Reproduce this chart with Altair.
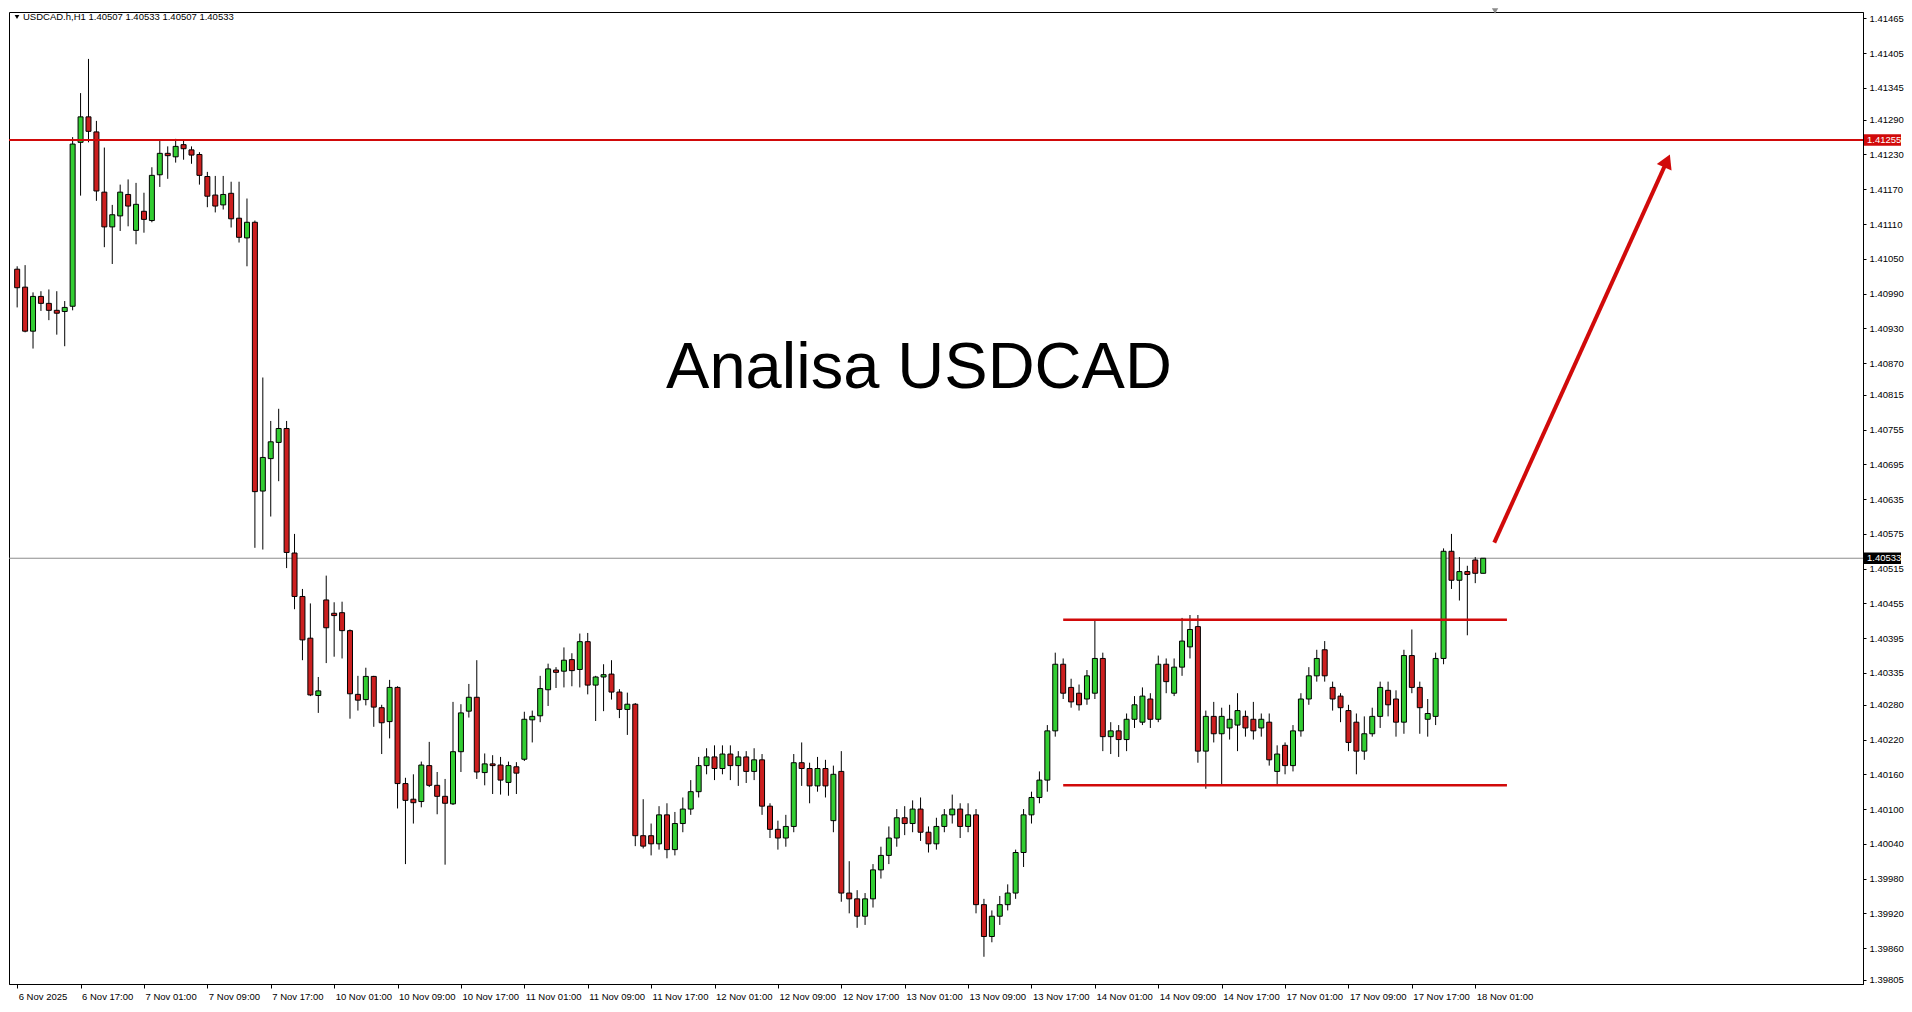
import json
import altair as alt
import pandas as pd

# ---------------- data ----------------
OPEN = [1.41032, 1.41001, 1.40925, 1.40985, 1.40973, 1.40961, 1.40959, 1.40968, 1.41251, 1.41295,
        1.41269, 1.41165, 1.41105, 1.41124, 1.41161, 1.41099, 1.41132, 1.41116, 1.41195, 1.41232,
        1.41226, 1.41247, 1.41238, 1.41230, 1.41192, 1.41160, 1.41143, 1.41163, 1.41120, 1.41086,
        1.41113, 1.40649, 1.40705, 1.40733, 1.40757, 1.40542, 1.40467, 1.40395, 1.40296, 1.40461,
        1.40438, 1.40439, 1.40408, 1.40298, 1.40289, 1.40329, 1.40275, 1.40251, 1.40310, 1.40144,
        1.40117, 1.40113, 1.40175, 1.40141, 1.40122, 1.40109, 1.40199, 1.40269, 1.40293, 1.40163,
        1.40178, 1.40176, 1.40146, 1.40173, 1.40186, 1.40254, 1.40261, 1.40306, 1.40340, 1.40338,
        1.40358, 1.40341, 1.40389, 1.40314, 1.40328, 1.40333, 1.40302, 1.40272, 1.40281, 1.40054,
        1.40054, 1.40040, 1.40090, 1.40030, 1.40075, 1.40100, 1.40130, 1.40175, 1.40190, 1.40170,
        1.40195, 1.40175, 1.40190, 1.40165, 1.40185, 1.40105, 1.40065, 1.40050, 1.40070, 1.40180,
        1.40170, 1.40140, 1.40170, 1.40080, 1.40165, 1.39955, 1.39945, 1.39915, 1.39945, 1.39995,
        1.40020, 1.40050, 1.40085, 1.40075, 1.40100, 1.40060, 1.40040, 1.40070, 1.40090, 1.40100,
        1.40070, 1.40090, 1.39935, 1.39880, 1.39915, 1.39935, 1.39955, 1.40025, 1.40090, 1.40120,
        1.40150, 1.40235, 1.40350, 1.40310, 1.40300, 1.40290, 1.40300, 1.40360, 1.40225, 1.40235,
        1.40220, 1.40255, 1.40250, 1.40290, 1.40255, 1.40350, 1.40300, 1.40345, 1.40380, 1.40415,
        1.40200, 1.40260, 1.40230, 1.40240, 1.40245, 1.40260, 1.40255, 1.40240, 1.40250, 1.40165,
        1.40210, 1.40175, 1.40235, 1.40290, 1.40330, 1.40375, 1.40310, 1.40295, 1.40270, 1.40250,
        1.40200, 1.40230, 1.40260, 1.40305, 1.40290, 1.40250, 1.40365, 1.40310, 1.40255, 1.40260,
        1.40360, 1.40545, 1.40495, 1.40510, 1.40530, 1.40507]
HIGH = [1.41037, 1.41039, 1.40992, 1.40994, 1.40997, 1.40994, 1.40977, 1.41260, 1.41336, 1.41395,
        1.41288, 1.41242, 1.41143, 1.41178, 1.41187, 1.41181, 1.41164, 1.41208, 1.41254, 1.41244,
        1.41257, 1.41254, 1.41244, 1.41234, 1.41200, 1.41193, 1.41193, 1.41183, 1.41183, 1.41154,
        1.41116, 1.40845, 1.40770, 1.40791, 1.40770, 1.40575, 1.40480, 1.40455, 1.40328, 1.40503,
        1.40457, 1.40458, 1.40410, 1.40330, 1.40344, 1.40330, 1.40280, 1.40323, 1.40312, 1.40154,
        1.40160, 1.40182, 1.40216, 1.40164, 1.40152, 1.40285, 1.40281, 1.40316, 1.40357, 1.40196,
        1.40193, 1.40190, 1.40182, 1.40181, 1.40268, 1.40270, 1.40330, 1.40351, 1.40345, 1.40379,
        1.40369, 1.40403, 1.40404, 1.40330, 1.40350, 1.40357, 1.40307, 1.40301, 1.40283, 1.40117,
        1.40075, 1.40105, 1.40110, 1.40095, 1.40120, 1.40150, 1.40190, 1.40205, 1.40210, 1.40210,
        1.40210, 1.40200, 1.40200, 1.40205, 1.40195, 1.40110, 1.40080, 1.40090, 1.40195, 1.40215,
        1.40180, 1.40190, 1.40185, 1.40175, 1.40200, 1.40010, 1.39960, 1.39955, 1.40005, 1.40035,
        1.40070, 1.40100, 1.40105, 1.40115, 1.40120, 1.40070, 1.40085, 1.40100, 1.40125, 1.40110,
        1.40110, 1.40100, 1.39945, 1.39925, 1.39950, 1.39970, 1.40030, 1.40100, 1.40130, 1.40165,
        1.40245, 1.40370, 1.40360, 1.40325, 1.40315, 1.40340, 1.40425, 1.40370, 1.40250, 1.40245,
        1.40265, 1.40295, 1.40310, 1.40300, 1.40365, 1.40360, 1.40360, 1.40430, 1.40435, 1.40435,
        1.40270, 1.40285, 1.40275, 1.40280, 1.40300, 1.40270, 1.40285, 1.40265, 1.40265, 1.40210,
        1.40215, 1.40245, 1.40300, 1.40345, 1.40375, 1.40390, 1.40320, 1.40300, 1.40280, 1.40265,
        1.40260, 1.40275, 1.40320, 1.40320, 1.40305, 1.40375, 1.40410, 1.40320, 1.40290, 1.40370,
        1.40550, 1.40575, 1.40535, 1.40520, 1.40535, 1.40533]
LOW = [1.40966, 1.40923, 1.40895, 1.40960, 1.40944, 1.40919, 1.40899, 1.40961, 1.41159, 1.41251,
       1.41150, 1.41070, 1.41041, 1.41098, 1.41106, 1.41075, 1.41095, 1.41113, 1.41174, 1.41188,
       1.41216, 1.41221, 1.41214, 1.41178, 1.41139, 1.41130, 1.41135, 1.41104, 1.41078, 1.41037,
       1.40551, 1.40548, 1.40605, 1.40666, 1.40516, 1.40445, 1.40357, 1.40295, 1.40266, 1.40352,
       1.40363, 1.40360, 1.40256, 1.40270, 1.40279, 1.40242, 1.40195, 1.40222, 1.40101, 1.40005,
       1.40075, 1.40103, 1.40138, 1.40091, 1.40004, 1.40107, 1.40164, 1.40258, 1.40152, 1.40141,
       1.40126, 1.40125, 1.40123, 1.40126, 1.40183, 1.40215, 1.40250, 1.40278, 1.40309, 1.40310,
       1.40312, 1.40310, 1.40298, 1.40252, 1.40269, 1.40289, 1.40257, 1.40228, 1.40036, 1.40032,
       1.40020, 1.40030, 1.40015, 1.40020, 1.40060, 1.40090, 1.40120, 1.40160, 1.40150, 1.40160,
       1.40150, 1.40140, 1.40145, 1.40150, 1.40090, 1.40050, 1.40030, 1.40035, 1.40060, 1.40140,
       1.40110, 1.40130, 1.40120, 1.40060, 1.39940, 1.39920, 1.39895, 1.39900, 1.39930, 1.39980,
       1.40005, 1.40035, 1.40055, 1.40060, 1.40045, 1.40025, 1.40030, 1.40060, 1.40075, 1.40050,
       1.40060, 1.39920, 1.39845, 1.39870, 1.39900, 1.39925, 1.39945, 1.40000, 1.40075, 1.40110,
       1.40130, 1.40225, 1.40290, 1.40275, 1.40270, 1.40280, 1.40290, 1.40200, 1.40195, 1.40190,
       1.40200, 1.40240, 1.40245, 1.40240, 1.40250, 1.40300, 1.40295, 1.40330, 1.40360, 1.40180,
       1.40135, 1.40215, 1.40140, 1.40220, 1.40200, 1.40225, 1.40220, 1.40225, 1.40175, 1.40140,
       1.40160, 1.40165, 1.40225, 1.40280, 1.40320, 1.40320, 1.40270, 1.40250, 1.40200, 1.40160,
       1.40185, 1.40225, 1.40240, 1.40260, 1.40225, 1.40230, 1.40300, 1.40230, 1.40225, 1.40245,
       1.40350, 1.40480, 1.40460, 1.40400, 1.40490, 1.40507]
CLOSE = [1.41000, 1.40925, 1.40985, 1.40973, 1.40961, 1.40956, 1.40966, 1.41248, 1.41295, 1.41270,
         1.41167, 1.41105, 1.41126, 1.41165, 1.41141, 1.41144, 1.41118, 1.41194, 1.41232, 1.41228,
         1.41244, 1.41240, 1.41229, 1.41194, 1.41158, 1.41141, 1.41161, 1.41119, 1.41087, 1.41113,
         1.40648, 1.40707, 1.40734, 1.40757, 1.40543, 1.40467, 1.40392, 1.40297, 1.40304, 1.40413,
         1.40434, 1.40408, 1.40299, 1.40288, 1.40329, 1.40276, 1.40249, 1.40310, 1.40144, 1.40115,
         1.40111, 1.40176, 1.40141, 1.40122, 1.40110, 1.40199, 1.40266, 1.40293, 1.40164, 1.40178,
         1.40175, 1.40150, 1.40175, 1.40162, 1.40255, 1.40260, 1.40308, 1.40342, 1.40336, 1.40357,
         1.40339, 1.40389, 1.40314, 1.40328, 1.40332, 1.40302, 1.40272, 1.40281, 1.40054, 1.40036,
         1.40040, 1.40090, 1.40030, 1.40075, 1.40100, 1.40130, 1.40175, 1.40190, 1.40170, 1.40195,
         1.40175, 1.40190, 1.40165, 1.40185, 1.40105, 1.40065, 1.40050, 1.40070, 1.40180, 1.40170,
         1.40140, 1.40170, 1.40140, 1.40160, 1.39955, 1.39945, 1.39915, 1.39945, 1.39995, 1.40020,
         1.40050, 1.40085, 1.40075, 1.40100, 1.40060, 1.40040, 1.40070, 1.40090, 1.40100, 1.40070,
         1.40090, 1.39935, 1.39880, 1.39915, 1.39935, 1.39955, 1.40025, 1.40090, 1.40120, 1.40150,
         1.40235, 1.40350, 1.40300, 1.40285, 1.40280, 1.40330, 1.40360, 1.40225, 1.40235, 1.40220,
         1.40255, 1.40280, 1.40295, 1.40255, 1.40350, 1.40320, 1.40345, 1.40390, 1.40410, 1.40200,
         1.40260, 1.40230, 1.40260, 1.40255, 1.40270, 1.40240, 1.40235, 1.40255, 1.40185, 1.40195,
         1.40175, 1.40235, 1.40290, 1.40330, 1.40360, 1.40330, 1.40290, 1.40275, 1.40215, 1.40200,
         1.40230, 1.40260, 1.40310, 1.40280, 1.40250, 1.40365, 1.40310, 1.40275, 1.40265, 1.40360,
         1.40545, 1.40495, 1.40510, 1.40505, 1.40507, 1.40533]

XLABELS = ["6 Nov 2025", "6 Nov 17:00", "7 Nov 01:00", "7 Nov 09:00", "7 Nov 17:00",
           "10 Nov 01:00", "10 Nov 09:00", "10 Nov 17:00", "11 Nov 01:00", "11 Nov 09:00",
           "11 Nov 17:00", "12 Nov 01:00", "12 Nov 09:00", "12 Nov 17:00", "13 Nov 01:00",
           "13 Nov 09:00", "13 Nov 17:00", "14 Nov 01:00", "14 Nov 09:00", "14 Nov 17:00",
           "17 Nov 01:00", "17 Nov 09:00", "17 Nov 17:00", "18 Nov 01:00"]
XLABEL_BARS = [0, 8, 16, 24, 32, 40, 48, 56, 64, 72, 80, 88, 96, 104, 112, 120, 128, 136,
               144, 152, 160, 168, 176, 184]
YTICKS = [1.41465, 1.41405, 1.41345, 1.41290, 1.41230, 1.41170, 1.41110, 1.41050, 1.40990,
          1.40930, 1.40870, 1.40815, 1.40755, 1.40695, 1.40635, 1.40575, 1.40515, 1.40455,
          1.40395, 1.40335, 1.40280, 1.40220, 1.40160, 1.40100, 1.40040, 1.39980, 1.39920,
          1.39860, 1.39805]

RESISTANCE = [1.41255]
CURRENT = [1.40533]
CHANNEL_LEVELS = [1.40427, 1.40141]
CHANNEL_START = [132, 132]
CHANNEL_END = [188, 188]
ARROW_X = [186.4, 208.2]
ARROW_Y = [1.40560, 1.41219]
TITLE = "Analisa USDCAD"
HEADER = "USDCAD.h,H1  1.40507 1.40533 1.40507 1.40533"

# ---------------- styling ----------------
GREEN = "#32cd32"
RED = "#cc1f1f"
LINE_RED = "#d10a0a"
FONT = "Liberation Sans"
W, H = 1854, 972

df = pd.DataFrame({"i": list(range(len(OPEN))), "open": OPEN, "high": HIGH,
                   "low": LOW, "close": CLOSE})
df["dir"] = ["up" if c >= o else "down" for o, c in zip(OPEN, CLOSE)]

xscale = alt.Scale(domain=[-0.4, 232.3], nice=False, zero=False)
yscale = alt.Scale(domain=[1.39798, 1.41476], nice=False, zero=False)

label_expr = json.dumps(XLABELS) + "[round(datum.value / 8)]"
xaxis = alt.Axis(values=XLABEL_BARS, labelExpr=label_expr, labelAlign="left",
                 labelFlush=False, labelOverlap=False, labelPadding=3, labelOffset=1,
                 tickSize=4, tickColor="black", domainColor="black", labelColor="black",
                 labelFont=FONT, labelFontSize=9.5, grid=False, title=None)
yaxis = alt.Axis(orient="right", values=YTICKS, format=".5f", labelOverlap=False,
                 labelFlush=False, tickSize=3, labelPadding=3, tickColor="black",
                 domainColor="black", labelColor="black", labelFont=FONT,
                 labelFontSize=9.5, grid=False, title=None)


def X(field):
    return alt.X(field, scale=xscale, axis=xaxis)


def Y(field):
    return alt.Y(field, scale=yscale, axis=yaxis)


base = alt.Chart(df)
wicks = base.mark_rule(color="black", strokeWidth=1).encode(
    x=X("i:Q"), y=Y("low:Q"), y2="high:Q")
bodies = base.mark_bar(size=5, stroke="black", strokeWidth=1).encode(
    x=X("i:Q"), y=Y("open:Q"), y2="close:Q",
    color=alt.Color("dir:N", scale=alt.Scale(domain=["up", "down"], range=[GREEN, RED]),
                    legend=None),
)

res_line = alt.Chart(pd.DataFrame({"y": RESISTANCE})).mark_rule(
    color=LINE_RED, strokeWidth=2).encode(y=Y("y:Q"))
cur_line = alt.Chart(pd.DataFrame({"y": CURRENT})).mark_rule(
    color="#8c8c8c", strokeWidth=1).encode(y=Y("y:Q"))

chan = alt.Chart(pd.DataFrame({"x": CHANNEL_START, "x2": CHANNEL_END, "y": CHANNEL_LEVELS})
                 ).mark_rule(color=LINE_RED, strokeWidth=2.5).encode(
    x=X("x:Q"), x2="x2:Q", y=Y("y:Q"))

arrow_df = pd.DataFrame({"x": ARROW_X, "y": ARROW_Y})
arrow_line = alt.Chart(arrow_df).mark_line(color=LINE_RED, strokeWidth=4).encode(
    x=X("x:Q"), y=Y("y:Q"))
arrow_head = alt.Chart(arrow_df.iloc[[1]]).mark_point(
    shape="triangle-up", filled=True, color=LINE_RED, opacity=1, size=260, angle=24
).encode(x=X("x:Q"), y=Y("y:Q"))

title = alt.Chart(pd.DataFrame({"x": [113.8], "y": [1.40827], "t": [TITLE]})).mark_text(
    font=FONT, fontSize=65, color="black", align="center", baseline="alphabetic"
).encode(x=X("x:Q"), y=Y("y:Q"), text="t:N")

header_tri = alt.Chart(pd.DataFrame({"a": [0]})).mark_point(
    shape="triangle-down", filled=True, color="black", opacity=1, size=22
).encode(x=alt.value(8), y=alt.value(5))
header = alt.Chart(pd.DataFrame({"t": [HEADER]})).mark_text(
    font=FONT, fontSize=9.5, color="black", align="left", baseline="middle"
).encode(x=alt.value(14), y=alt.value(5), text="t:N")

tags_df = pd.DataFrame({"y": RESISTANCE + CURRENT,
                        "top": [RESISTANCE[0] + 0.0001, CURRENT[0] + 0.0001],
                        "bot": [RESISTANCE[0] - 0.0001, CURRENT[0] - 0.0001],
                        "lbl": ["%.5f" % RESISTANCE[0], "%.5f" % CURRENT[0]],
                        "kind": ["res", "cur"]})
tag_box = alt.Chart(tags_df).mark_rect().encode(
    x=alt.value(W + 1), x2=alt.value(W + 38),
    y=Y("top:Q"), y2="bot:Q",
    color=alt.Color("kind:N", scale=alt.Scale(domain=["res", "cur"], range=[LINE_RED, "black"]),
                    legend=None),
)
tag_txt = alt.Chart(tags_df).mark_text(
    font=FONT, fontSize=9.5, color="white", align="left", baseline="middle"
).encode(x=alt.value(W + 4), y=Y("y:Q"), text="lbl:N")

shift_marker = alt.Chart(pd.DataFrame({"x": [186.5]})).mark_point(
    shape="triangle-down", filled=True, color="#8a8a8a", opacity=1, size=40
).encode(x=X("x:Q"), y=alt.value(-1))

chart = alt.layer(
    cur_line, wicks, bodies, res_line, chan, arrow_line, arrow_head, title,
    header_tri, header, tag_box, tag_txt, shift_marker
).resolve_scale(color="independent").properties(
    width=W, height=H, padding=0, background="white"
).configure_view(stroke="black", strokeWidth=1).configure_axis(labelOverlap=False)

chart.save("out.html", embed_options={"renderer": "svg", "actions": False})
